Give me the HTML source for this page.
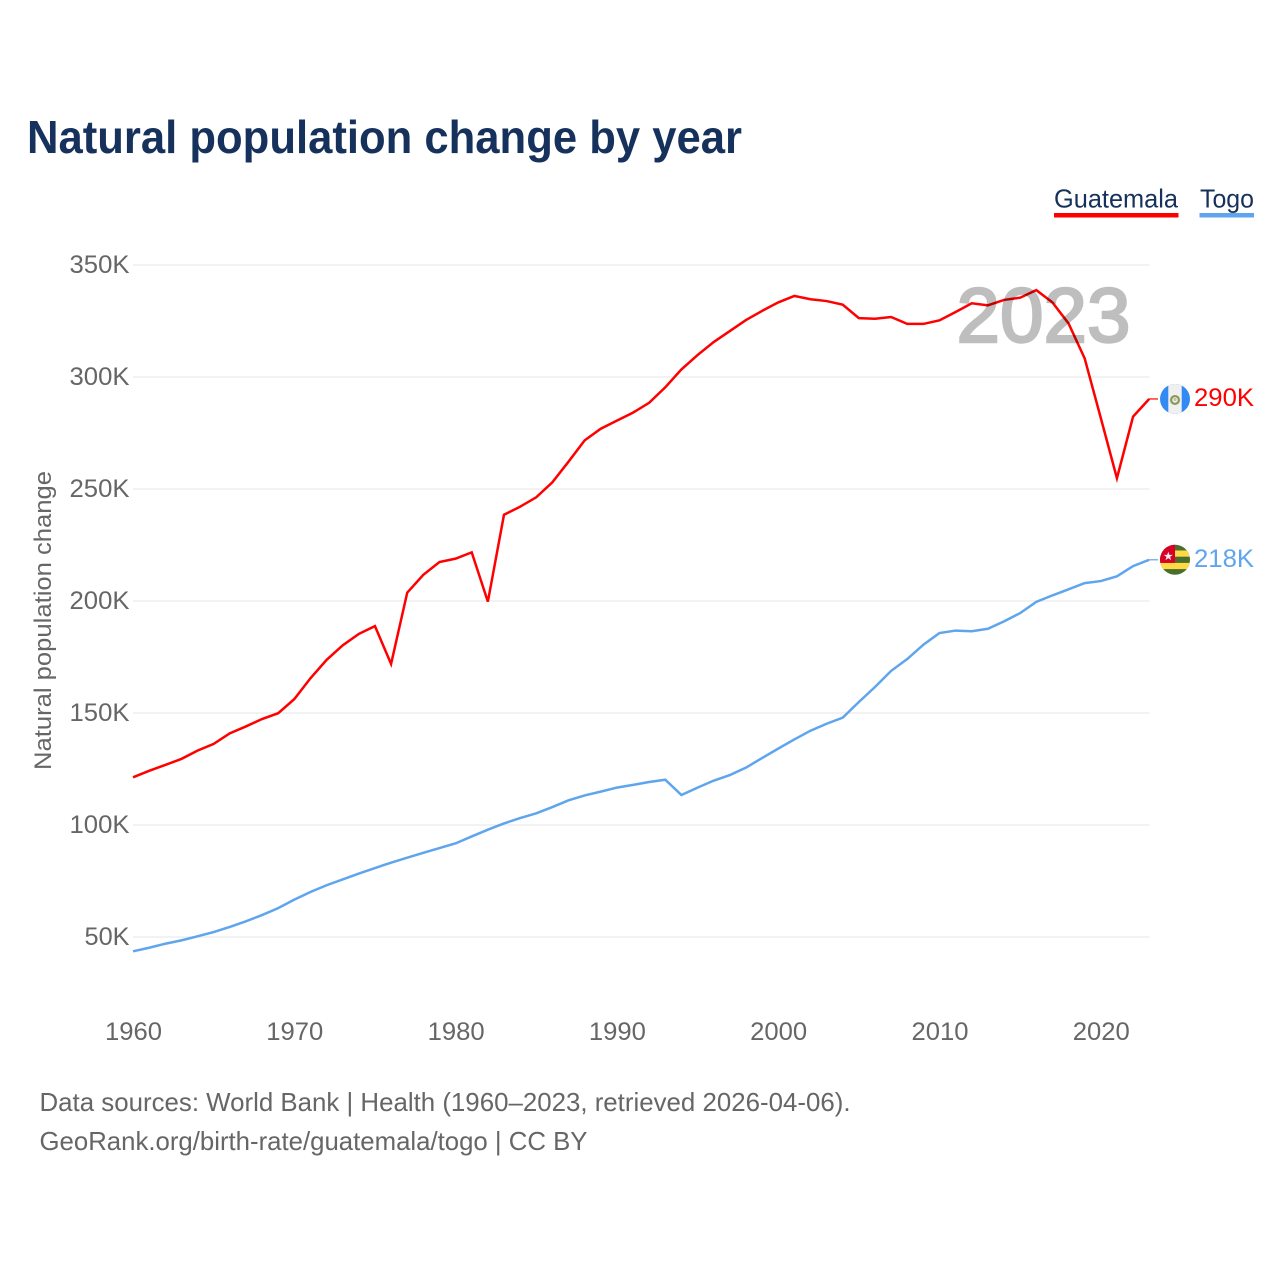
<!DOCTYPE html>
<html lang="en">
<head>
<meta charset="utf-8">
<title>Natural population change by year</title>
<style>
html,body{margin:0;padding:0;background:#fff;}
#chart{display:block;width:1280px;height:1280px;font-family:"Liberation Sans",sans-serif;}
</style>
</head>
<body>
<svg id="chart" xmlns="http://www.w3.org/2000/svg" width="1280" height="1280" viewBox="0 0 1280 1280">
  <defs>
    <clipPath id="flag-clip-gt"><circle cx="1175" cy="399" r="15"></circle></clipPath>
    <clipPath id="flag-clip-tg"><circle cx="1175" cy="559.5" r="15"></circle></clipPath>
  </defs>
  <rect width="1280" height="1280" fill="#fff"></rect>
  <text x="27" y="153" font-size="46" font-weight="700" fill="#16325c" textLength="715" lengthAdjust="spacingAndGlyphs">Natural population change by year</text>

  <g>
    <g>
      <text x="1054" y="207.5" font-size="26" fill="#16325c" textLength="124" lengthAdjust="spacingAndGlyphs">Guatemala</text>
      <rect x="1054" y="213" width="124.5" height="4.5" fill="#ff0000"></rect>
    </g>
    <g>
      <text x="1200" y="207.5" font-size="26" fill="#16325c" textLength="54" lengthAdjust="spacingAndGlyphs">Togo</text>
      <rect x="1199.5" y="213" width="54.5" height="4.5" fill="#5fa5ee"></rect>
    </g>
  </g>

  <g id="grid"></g>
  <g id="y-ticks"></g>
  <g id="x-ticks"></g>
  <text transform="translate(51 620.5) rotate(-90)" text-anchor="middle" font-size="24.5" fill="#666666" textLength="299" lengthAdjust="spacingAndGlyphs">Natural population change</text>

  <g id="series"></g>

  <g opacity="0.25">
    <text x="956.5" y="342" font-size="77" font-weight="400" fill="#000000" stroke="#000000" stroke-width="2.4" textLength="174" lengthAdjust="spacingAndGlyphs">2023</text>
  </g>

  <g id="flag-gt" clip-path="url(#flag-clip-gt)">
    <rect x="1160" y="380" width="30" height="40" fill="#338af3"></rect>
    <rect x="1168.3" y="380" width="13.4" height="40" fill="#f0f0f0"></rect>
    <circle cx="1175" cy="400" r="3.9" fill="none" stroke="#8a9a5b" stroke-width="2.2"></circle>
    <circle cx="1175" cy="399.5" r="1.6" fill="#c9bfa0"></circle>
  </g>
  <g id="flag-tg" clip-path="url(#flag-clip-tg)">
    <rect x="1160" y="540" width="30" height="40" fill="#496e2d"></rect>
    <rect x="1160" y="550.2" width="30" height="6.2" fill="#ffda44"></rect>
    <rect x="1160" y="562.6" width="30" height="6.2" fill="#ffda44"></rect>
    <rect x="1160" y="540" width="15" height="22.6" fill="#d80027"></rect>
    <polygon points="1168.3,551.4 1169.4,554.6 1172.8,554.6 1170.1,556.6 1171.1,559.8 1168.3,557.9 1165.5,559.8 1166.5,556.6 1163.8,554.6 1167.2,554.6" fill="#f0f0f0"></polygon>
  </g>

  <g id="end-labels"></g>

  <text x="39.5" y="1111" font-size="26" fill="#666666" textLength="811" lengthAdjust="spacingAndGlyphs">Data sources: World Bank | Health (1960–2023, retrieved 2026-04-06).</text>
  <text x="39.5" y="1150" font-size="26" fill="#666666" textLength="548" lengthAdjust="spacingAndGlyphs">GeoRank.org/birth-rate/guatemala/togo | CC BY</text>
</svg>
<script>
const startYear = 1960;
const guatemalaValues = [121.3,124.2,126.8,129.5,133.2,136.2,140.9,144,147.3,149.9,156.2,165.5,173.7,180.2,185.3,188.8,171.9,203.7,211.7,217.4,218.9,221.7,199.7,238.5,242.1,246.3,253,262.2,271.7,276.9,280.5,284.1,288.5,295.4,303.4,309.8,315.6,320.5,325.4,329.5,333.3,336.2,334.7,333.9,332.3,326.3,326,326.8,323.7,323.7,325.3,329,332.9,332,334.4,335.4,338.8,333.3,323.9,308.3,281.7,254.8,282.3,290.2];
const togoValues = [43.6,45.2,47,48.5,50.3,52.2,54.5,57,59.8,62.9,66.7,70.1,73.1,75.7,78.3,80.8,83.2,85.4,87.6,89.7,91.8,94.9,97.9,100.7,103.1,105.2,108,111,113.2,114.9,116.7,117.9,119.2,120.2,113.4,116.7,119.8,122.3,125.6,129.9,134.1,138.2,142.1,145.2,147.9,154.9,161.6,168.8,174.1,180.5,185.7,186.8,186.5,187.6,190.9,194.6,199.6,202.5,205.2,208,208.9,211,215.6,218.4];
const yTickValues = [50,100,150,200,250,300,350];
const xTickYears = [1960,1970,1980,1990,2000,2010,2020];

const NS = 'http://www.w3.org/2000/svg';
function xScale(year){ return 133 + (year - 1960) * 16.13; }
function yScale(v){ return 937 - (v - 50) * 2.24; }
function labelWidth(s){ return s.length * 15 ; }
function make(tag, parent, attrs){
  const el = document.createElementNS(NS, tag);
  for (const k in attrs) el.setAttribute(k, attrs[k]);
  parent.appendChild(el);
  return el;
}
const grid = document.getElementById('grid');
const yTicks = document.getElementById('y-ticks');
const xTicks = document.getElementById('x-ticks');
const seriesG = document.getElementById('series');
const endLabels = document.getElementById('end-labels');

yTickValues.forEach(function(v){
  const line = make('line', grid, {x1:133, x2:1149.5, y1:yScale(v), y2:yScale(v), stroke:'#eeeeee', 'stroke-width':1.5});
  
  
  const label = v + 'K';
  const t = make('text', yTicks, {x:129.5, y:yScale(v) + 8, 'text-anchor':'end', 'font-size':25, fill:'#666666', textLength:labelWidth(label), lengthAdjust:'spacingAndGlyphs'});
  
  
  t.textContent = label;
});
xTickYears.forEach(function(yr){
  const t = make('text', xTicks, {x:xScale(yr) + 0.5, y:1040, 'text-anchor':'middle', 'font-size':25, fill:'#666666', textLength:57, lengthAdjust:'spacingAndGlyphs'});
  
  
  t.textContent = String(yr);
});
function drawSeries(name, values, color){
  const pts = values.map(function(v, i){ return xScale(startYear + i).toFixed(2) + ',' + yScale(v).toFixed(2); }).join(' ');
  const line = make('polyline', seriesG, {points:pts, fill:'none', stroke:color, 'stroke-width':2.5, 'stroke-linejoin':'miter'});
  
  
  const last = values[values.length - 1];
  const lastX = xScale(startYear + values.length - 1);
  const tail = make('line', seriesG, {x1:lastX, x2:1158, y1:yScale(last), y2:yScale(last), stroke:color, 'stroke-width':1.2});
  
  
  const t = make('text', endLabels, {x:1194, y:yScale(last) + 7, 'font-size':25, fill:color, textLength:60, lengthAdjust:'spacingAndGlyphs'});
  
  
  t.textContent = Math.round(last) + 'K';
}
drawSeries('guatemala', guatemalaValues, '#ff0000');
drawSeries('togo', togoValues, '#5fa5ee');

function placeFlag(id, value, baseY){
  const dy = yScale(value) - baseY;
  document.getElementById(id).setAttribute('transform', 'translate(0 ' + dy.toFixed(2) + ')');
}
placeFlag('flag-gt', guatemalaValues[guatemalaValues.length - 1], 399);
placeFlag('flag-tg', togoValues[togoValues.length - 1], 559.5);
</script>
</body>
</html>
